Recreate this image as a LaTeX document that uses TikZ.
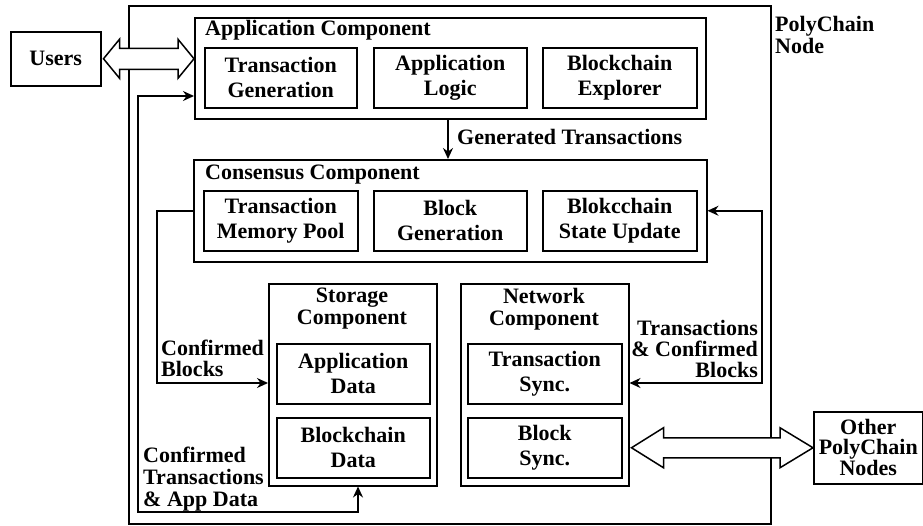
\documentclass[tikz,border=0pt]{standalone}
\usepackage{fontspec}
\setmainfont{Liberation Serif}
\usetikzlibrary{arrows.meta,calc}
\tikzset{
  bx/.style={draw, line width=1.5pt, inner sep=0pt, align=center, anchor=north west},
  lbl/.style={font=\bfseries\fontsize{22}{21}\selectfont, inner sep=0pt},
  arr/.style={line width=1.5pt, -{Stealth[length=11pt,width=10pt]}},
  darr/.style={line width=1.5pt, {Stealth[length=11pt,width=10pt]}-{Stealth[length=11pt,width=10pt]}},
  barr/.style={draw, line width=1.5pt, fill=white, line join=miter}
}
\begin{document}
\begin{tikzpicture}[x=1pt,y=-1pt, every node/.style={font=\bfseries\fontsize{22}{25}\selectfont}]
\useasboundingbox (0,0) rectangle (923,525);
% outer node
\node[bx, line width=1.7pt, minimum width=642, minimum height=518] (pc) at (128,5) {};
\node[lbl, align=left, anchor=north west, font=\bfseries\fontsize{22}{22}\selectfont] (pcl) at (775,16) {PolyChain\\Node};
% external
\node[bx, minimum width=90, minimum height=54] (users) at (10,31) {Users};
\node[bx, minimum width=109, minimum height=72, font=\bfseries\fontsize{22}{20}\selectfont] (other) at (813,411) {Other\\PolyChain\\Nodes};
% application component
\node[bx, minimum width=511, minimum height=101] (app) at (194,17) {};
\node[lbl, anchor=base west] (appt) at (205,35) {Application Component};
\node[bx, minimum width=152, minimum height=60] (tg) at (204,47) {Transaction\\Generation};
\node[bx, minimum width=153, minimum height=60] (al) at (373,47) {Application\\Logic};
\node[bx, minimum width=154, minimum height=60] (be) at (542,47) {Blockchain\\Explorer};
% consensus component
\node[bx, minimum width=513, minimum height=102] (cons) at (193,159) {};
\node[lbl, anchor=base west] (const) at (205,179) {Consensus Component};
\node[bx, minimum width=154, minimum height=60] (tmp) at (203,190) {Transaction\\Memory Pool};
\node[bx, minimum width=153, minimum height=60] (bg) at (373,190) {Block\\Generation};
\node[bx, minimum width=154, minimum height=60] (bsu) at (542,190) {Blokcchain\\State Update};
% storage component
\node[bx, minimum width=168, minimum height=202] (st) at (268,283) {};
\node[lbl, align=center, anchor=north, font=\bfseries\fontsize{22}{22}\selectfont] (stt) at (352,288) {Storage\\Component};
\node[bx, minimum width=153, minimum height=60] (ad) at (276,343) {Application\\Data};
\node[bx, minimum width=153, minimum height=60] (bd) at (276,417) {Blockchain\\Data};
% network component
\node[bx, minimum width=168, minimum height=202] (net) at (460,283) {};
\node[lbl, align=center, anchor=north, font=\bfseries\fontsize{22}{22}\selectfont] (nett) at (544,288) {Network\\Component};
\node[bx, minimum width=154, minimum height=60] (ts) at (467,343) {Transaction\\Sync.};
\node[bx, minimum width=154, minimum height=60] (bs) at (467,417) {Block\\Sync.};
% block arrows
\coordinate (ua) at ($(users.east)+(2,0)$);
\coordinate (ub) at (app.west |- users.east);
\draw[barr] (ua) -- ++(16,-19.5) -- ++(0,9) -- ($(ub)+(-16,-10.5)$) -- ++(0,-9) -- (ub)
  -- ++(-16,19.5) -- ++(0,-9) -- ($(ua)+(16,10.5)$) -- ++(0,9) -- cycle;
\coordinate (ba) at ($(net.east |- bs.east)+(2,0)$);
\coordinate (bb) at (other.west |- bs.east);
\draw[barr] (ba) -- ++(32,-20) -- ++(0,10) -- ($(bb)+(-33,-10)$) -- ++(0,-10) -- (bb)
  -- ++(-33,20) -- ++(0,-10) -- ($(ba)+(32,10)$) -- ++(0,10) -- cycle;
% connectors
\coordinate (gx) at (448,0);
\draw[arr] (app.south -| gx) -- (cons.north -| gx);
\node[lbl, anchor=base west] (gtl) at (457,144) {Generated Transactions};
\coordinate (cbx) at (157,383);
\draw[arr] (cons.west) -| (cbx) -- (st.west |- cbx);
\node[lbl, align=left, anchor=north west] (cbl) at (161,340) {Confirmed\\Blocks};
\coordinate (tcx) at (762,383);
\draw[darr] (cons.east) -| (tcx) -- (net.east |- tcx);
\node[lbl, align=right, anchor=north east] (tcl) at (758,320) {Transactions\\\& Confirmed\\Blocks};
\coordinate (ctx) at (138,96);
\coordinate (cty) at (358,512);
\draw[darr] (app.west |- ctx) -- (ctx) |- (cty) -- (st.south -| cty);
\node[lbl, align=left, anchor=north west, font=\bfseries\fontsize{22}{22}\selectfont] (ctl) at (143,447) {Confirmed\\Transactions\\\& App Data};
\end{tikzpicture}
\end{document}
